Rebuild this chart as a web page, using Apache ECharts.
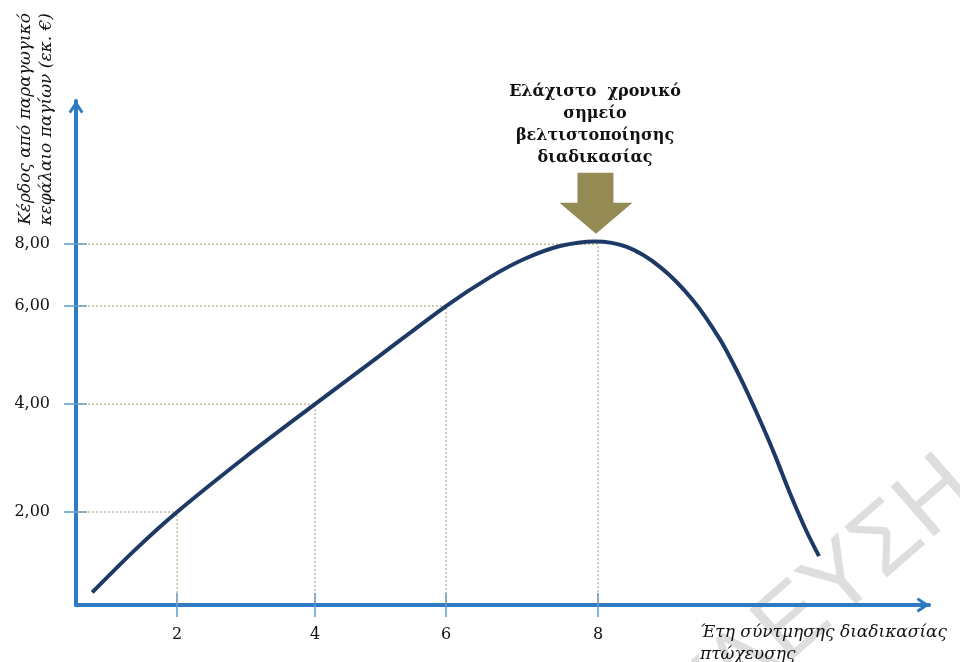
<!DOCTYPE html>
<html><head><meta charset="utf-8">
<script src="https://cdn.jsdelivr.net/npm/echarts@6/dist/echarts.min.js"></script>
<style>html,body{margin:0;padding:0;background:#fff}#c{width:960px;height:662px}</style>
</head><body><div id="c"></div>
<script>
// ---------------- data ----------------
const xTicks = [2, 4, 6, 8];
const xTickLabels = ['2', '4', '6', '8'];
const yTicks = [2, 4, 6, 8];
const yTickLabels = ['2,00', '4,00', '6,00', '8,00'];
const curveYears  = [0.77, 1.38, 2, 3.0, 4, 4.99, 6, 6.57, 7.03, 7.5, 7.96, 8.38, 8.82, 9.25, 9.61, 9.87, 10.13, 10.33, 10.53, 10.75, 10.91];
const curveProfit = [0.27, 1.17, 2, 3.03, 4, 4.99, 6, 6.92, 7.52, 7.94, 8.09, 7.91, 7.26, 6.19, 5.31, 4.55, 3.71, 3.05, 2.34, 1.57, 1.05];
const peakYear = 8;
const peakProfit = 8;
const titleLines = ['Ελάχιστο  χρονικό', 'σημείο', 'βελτιστοποίησης', 'διαδικασίας'];
const xAxisName = ['Έτη σύντμησης διαδικασίας', 'πτώχευσης'];
const yAxisName = ['Κέρδος από παραγωγικό', 'κεφάλαιο παγίων (εκ. €)'];
const watermark = 'ΔΙΑΒΟΥΛΕΥΣΗ';

// ------- schematic axes: the original spaces its labelled ticks unevenly -------
const xTickPlace = [2.03, 4.01, 5.89, 8.07];
const yTickPlace = [2, 4.32, 6.43, 7.76];
const X_MIN = 0.58, X_MAX = 12.82, Y_MIN = 0, Y_MAX = 10.84;

function warp(v, vals, place) {
  const n = vals.length;
  let i = 0;
  if (v >= vals[n - 1]) i = n - 2;
  else if (v > vals[0]) { while (!(v >= vals[i] && v <= vals[i + 1])) i++; }
  return place[i] + (v - vals[i]) * (place[i + 1] - place[i]) / (vals[i + 1] - vals[i]);
}
const wx = v => warp(v, xTicks, xTickPlace);
const wy = v => warp(v, [0].concat(yTicks), [0].concat(yTickPlace));
function labelFor(v, places, labels) {
  let best = 0;
  places.forEach((p, i) => { if (Math.abs(p - v) < Math.abs(places[best] - v)) best = i; });
  return labels[best];
}

const AXIS_BLUE = '#2e7bc4', TICK_BLUE = '#5b9bd5';
const CHEVRON = 'path://M0,9 L6,0 L12,9 L10.2,10.5 L6,4.6 L1.8,10.5 Z';
const serif = 'DejaVu Serif';

const chart = echarts.init(document.getElementById('c'), null, {renderer: 'canvas'});

const guideSeries = xTicks.map((xt, i) => ({
  type: 'line', silent: true, symbol: 'none', z: 3,
  lineStyle: {color: '#a39c6e', width: 1, type: [2, 2]},
  data: [[X_MIN, wy(yTicks[i])], [wx(xt), wy(yTicks[i])], [wx(xt), Y_MIN]]
}));

const option = {
  animation: false,
  grid: {left: 76, right: 31, top: 101, bottom: 57, containLabel: false, outerBoundsMode: 'none'},
  xAxis: [
    {
      type: 'value', min: X_MIN, max: X_MAX, position: 'bottom',
      axisLine: {show: true, onZero: false, symbol: ['none', CHEVRON], symbolSize: [17, 13], symbolOffset: [0, -6],
        lineStyle: {color: AXIS_BLUE, width: 4}},
      axisTick: {show: true, length: 12, customValues: xTickPlace, lineStyle: {color: TICK_BLUE, width: 1.5}},
      axisLabel: {customValues: xTickPlace, formatter: v => labelFor(v, xTickPlace, xTickLabels),
        margin: 22, color: '#111', fontFamily: serif, fontSize: 16},
      splitLine: {show: false}
    },
    {
      type: 'value', min: X_MIN, max: X_MAX, position: 'top', offset: -504,
      axisLine: {show: false, onZero: false},
      axisTick: {show: true, length: 12, customValues: xTickPlace, lineStyle: {color: TICK_BLUE, width: 1.5}},
      axisLabel: {show: false, customValues: xTickPlace},
      splitLine: {show: false}
    }
  ],
  yAxis: [
    {
      type: 'value', min: Y_MIN, max: Y_MAX, position: 'left',
      axisLine: {show: true, onZero: false, symbol: ['none', CHEVRON], symbolSize: [17, 13], symbolOffset: [0, -6],
        lineStyle: {color: AXIS_BLUE, width: 4}},
      axisTick: {show: true, length: 12, customValues: yTickPlace, lineStyle: {color: TICK_BLUE, width: 1.5}},
      axisLabel: {customValues: yTickPlace, formatter: v => labelFor(v, yTickPlace, yTickLabels),
        margin: 26, color: '#111', fontFamily: serif, fontSize: 16},
      splitLine: {show: false}
    },
    {
      type: 'value', min: Y_MIN, max: Y_MAX, position: 'right', offset: -853,
      axisLine: {show: false, onZero: false},
      axisTick: {show: true, length: 11, customValues: yTickPlace, lineStyle: {color: TICK_BLUE, width: 1.5}},
      axisLabel: {show: false, customValues: yTickPlace},
      splitLine: {show: false}
    }
  ],
  series: guideSeries.concat([{
    type: 'line', name: 'curve', silent: true, symbol: 'none', smooth: 0.3, z: 5,
    lineStyle: {color: '#1d3a66', width: 4},
    data: curveYears.map((x, i) => [wx(x), wy(curveProfit[i])]),
    markPoint: {
      silent: true,
      symbol: 'path://M18,0 L54,0 L54,30 L73,30 L36.5,61 L0,30 L18,30 Z',
      symbolSize: [73, 61], symbolOffset: [-2, -41],
      itemStyle: {color: '#948a54'},
      label: {show: false},
      data: [{coord: [wx(peakYear), wy(peakProfit)]}]
    }
  }]),
  graphic: [
    {type: 'text', z: -1, x: 963, y: 476, rotation: 0.716, silent: true,
      style: {text: watermark, fontFamily: 'Liberation Sans', fontSize: 96, fill: '#dedede', align: 'right', verticalAlign: 'middle'}},
    {type: 'text', x: 595, y: 81, silent: true,
      style: {text: titleLines.join('\n'), fontFamily: serif, fontWeight: 'bold', fontSize: 16, lineHeight: 22,
        align: 'center', verticalAlign: 'top', fill: '#111'}},
    {type: 'text', x: 36, y: 13, rotation: Math.PI / 2, silent: true,
      style: {text: yAxisName.join('\n'), fontFamily: serif, fontStyle: 'italic', fontSize: 17, lineHeight: 21,
        align: 'right', verticalAlign: 'middle', fill: '#111'}},
    {type: 'text', x: 700, y: 622, silent: true,
      style: {text: xAxisName.join('\n'), fontFamily: serif, fontStyle: 'italic', fontSize: 17, lineHeight: 22,
        align: 'left', verticalAlign: 'top', fill: '#111'}}
  ]
};
chart.setOption(option);
</script>
</body></html>
